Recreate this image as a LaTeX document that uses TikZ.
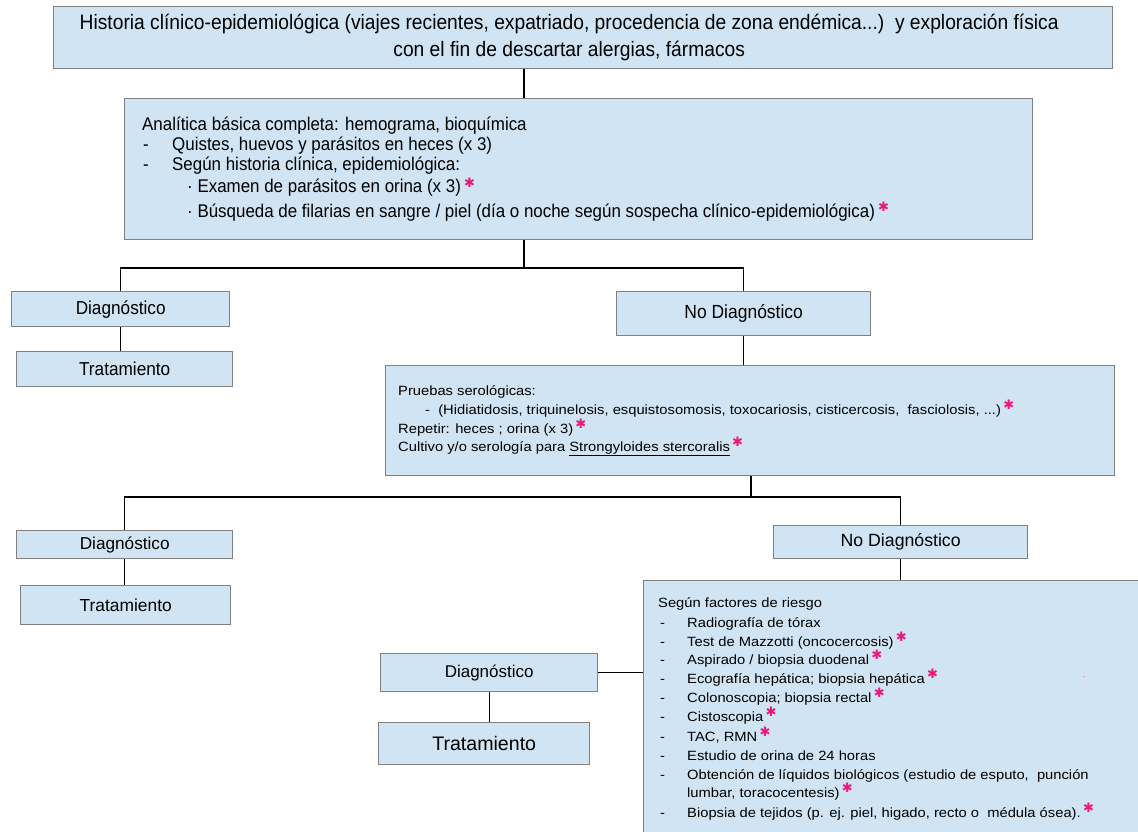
\documentclass[tikz,border=0pt]{standalone}
\usepackage{fontspec}
\setmainfont{Liberation Sans}
\newfontfamily\narrowsans[FakeStretch=0.92]{Liberation Sans}
\newfontfamily\widesans[FakeStretch=1.1]{Liberation Sans}
\newfontfamily\symfont{DejaVu Sans}
\definecolor{boxfill}{HTML}{D0E4F3}
\definecolor{boxline}{HTML}{808080}
\definecolor{astcol}{HTML}{F0147F}
\newcommand{\pinkast}{\,\raisebox{0.6ex}{\textcolor{astcol}{\symfont\fontsize{13}{13}\selectfont ✱}}}
\begin{document}
\begin{tikzpicture}[x=1pt,y=-1pt,
  box/.style={draw=boxline, fill=boxfill, line width=1.4pt, anchor=north west, inner sep=0pt},
  conn/.style={draw=black, line width=1.1pt},
  txt/.style={anchor=base west, inner sep=0pt},
  bigf/.style={font=\narrowsans\fontsize{20.9}{27}\selectfont},
  anaf/.style={font=\narrowsans\fontsize{18.4}{20}\selectfont},
  smallf/.style={font=\widesans\fontsize{13.4}{15}\selectfont},
  riskf/.style={font=\widesans\fontsize{13.4}{15}\selectfont}]
\useasboundingbox (0,0) rectangle (1138,832);
\clip (0,0) rectangle (1138,832);

% top box
\node[box, minimum width=1059pt, minimum height=62pt] (top) at (53,6) {};
\node[bigf, align=center, inner sep=0pt] (topt) at ([xshift=-14pt]top.center)
  {Historia clínico-epidemiológica (viajes recientes, expatriado, procedencia de zona endémica...)\ \ y exploración física\\con el fin de descartar alergias, fármacos};

% analitica box
\node[box, minimum width=908pt, minimum height=141pt] (ana) at (124,98) {};
\node[txt, anaf] (a1) at (142,131) {Analítica básica completa: hemograma, bioquímica};
\node[txt, anaf] (a2d) at (143,151) {-};
\node[txt, anaf] (a2) at (172,151) {Quistes, huevos y parásitos en heces (x 3)};
\node[txt, anaf] (a3d) at (143,171) {-};
\node[txt, anaf] (a3) at (172,171) {Según historia clínica, epidemiológica:};
\node[txt, anaf] (a4) at (187,193) {· Examen de parásitos en orina (x 3)\pinkast};
\node[txt, anaf] (a5) at (187,217) {· Búsqueda de filarias en sangre / piel (día o noche según sospecha clínico-epidemiológica)\pinkast};

% first level
\node[box, minimum width=218pt, minimum height=35pt] (d1) at (11,291) {};
\node[font=\narrowsans\fontsize{18.7}{20}\selectfont] (d1t) at (d1.center) {Diagnóstico};
\node[box, minimum width=216pt, minimum height=35pt] (t1) at (16,351) {};
\node[font=\narrowsans\fontsize{18.7}{20}\selectfont] (t1t) at (t1.center) {Tratamiento};
\node[box, minimum width=254pt, minimum height=44pt] (nd1) at (616,291) {};
\node[font=\narrowsans\fontsize{19}{20}\selectfont] (nd1t) at (nd1.center) {No Diagnóstico};

% serology box
\node[box, minimum width=729pt, minimum height=110pt] (sero) at (385,365) {};
\node[txt, smallf] (s1) at (398,395) {Pruebas serológicas:};
\node[txt, smallf] (s2) at (425,414) {-\ \ (Hidiatidosis, triquinelosis, esquistosomosis, toxocariosis, cisticercosis,\ \ fasciolosis, ...)\pinkast};
\node[txt, smallf] (s3) at (398,433) {Repetir: heces ; orina (x 3)\pinkast};
\node[txt, smallf] (s4) at (398,451) {Cultivo y/o serología para \underline{Strongyloides stercoralis}\pinkast};

% second level
\node[box, minimum width=216pt, minimum height=28pt] (d2) at (16,530) {};
\node[font=\fontsize{17.2}{18}\selectfont] (d2t) at (d2.center) {Diagnóstico};
\node[box, minimum width=210pt, minimum height=39pt] (t2) at (20,585) {};
\node[font=\fontsize{17.4}{18}\selectfont] (t2t) at (t2.center) {Tratamiento};
\node[box, minimum width=254pt, minimum height=33pt] (nd2) at (773,525) {};
\node[font=\fontsize{17.7}{18}\selectfont] (nd2t) at (nd2.center) {No Diagnóstico};

% risk box
\node[box, minimum width=510pt, minimum height=270pt] (risk) at (643,580) {};
\node[txt, riskf] (r0) at (658,607) {Según factores de riesgo};
\foreach \y/\t [count=\i] in {
  627/{Radiografía de tórax},
  646/{Test de Mazzotti (oncocercosis)\pinkast},
  664/{Aspirado / biopsia duodenal\pinkast},
  683/{Ecografía hepática; biopsia hepática\pinkast},
  702/{Colonoscopia; biopsia rectal\pinkast},
  721/{Cistoscopia\pinkast},
  741/{TAC, RMN\pinkast},
  760/{Estudio de orina de 24 horas},
  779/{Obtención de líquidos biológicos (estudio de esputo,\ \ punción},
  817/{Biopsia de tejidos (p. ej. piel, higado, recto o\ \ médula ósea).\pinkast}}{
  \node[txt, riskf] (rd\i) at (660,\y) {-};
  \node[txt, riskf] (r\i) at (687,\y) {\t};
}
\node[txt, riskf] (r9b) at (687,797) {lumbar, toracocentesis)\pinkast};
\node[txt, font=\fontsize{8}{8}\selectfont, text=astcol] (dot) at (1083,677) {.};

% third level
\node[box, minimum width=217pt, minimum height=38pt] (d3) at (380,653) {};
\node[font=\fontsize{17}{18}\selectfont] (d3t) at (d3.center) {Diagnóstico};
\node[box, minimum width=211pt, minimum height=42pt] (t3) at (378,722) {};
\node[font=\fontsize{19.6}{20}\selectfont] (t3t) at (t3.center) {Tratamiento};

% connectors
\coordinate (j0) at (524,80);
\coordinate (j1) at (524,268);
\coordinate (j2) at (751,497);
\draw[conn] (top.south -| j0) -- (ana.north -| j0);
\draw[conn] (ana.south -| j1) -- (j1);
\draw[conn] (d1.north) |- (j1) -| (nd1.north);
\draw[conn] (d1.south) -- (d1.south |- t1.north);
\draw[conn] (nd1.south) -- (nd1.south |- sero.north);
\draw[conn] (sero.south -| j2) -- (j2);
\draw[conn] (d2.north) |- (j2) -| (nd2.north);
\draw[conn] (d2.south) -- (d2.south |- t2.north);
\draw[conn] (nd2.south) -- (nd2.south |- risk.north);
\draw[conn] (d3.south) -- (d3.south |- t3.north);
\draw[conn] (d3.east) -- (d3.east -| risk.west);
\end{tikzpicture}
\end{document}
